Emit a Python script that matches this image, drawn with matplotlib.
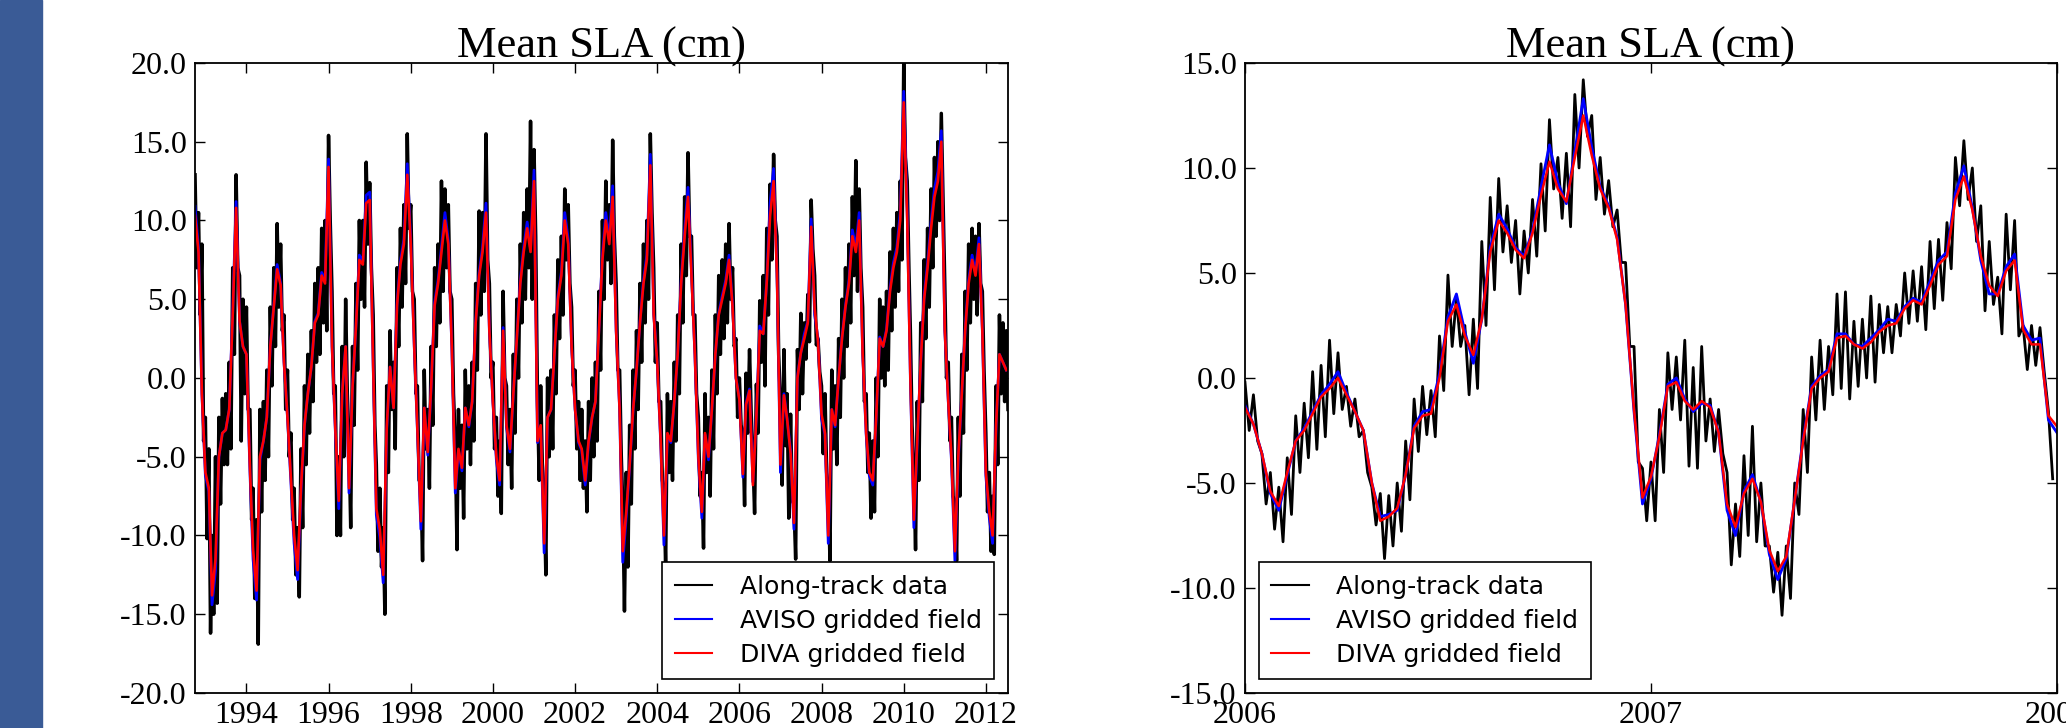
import numpy as np
import pandas as pd
import matplotlib
matplotlib.use('Agg')
from matplotlib import pyplot as plt
import matplotlib.dates as mdates
from matplotlib.ticker import FormatStrFormatter, MultipleLocator
from matplotlib.patches import Rectangle

# ---- left panel: monthly values, Oct 1992 .. Jul 2012 ----
diva_all = [
    10.3, 8.0, -1.0, -6.0, -7.0, -13.8, -11.5, -5.0, -3.5, -3.3,
    -2.0, 4.0, 10.8, 3.6, 2.0, 1.5, -5.7, -10.9, -13.5, -5.0,
    -4.0, -2.5, 2.0, 4.5, 6.9, 5.9, 1.0, -2.5, -6.5, -10.0,
    -12.2, -7.0, -3.0, -1.0, 0.7, 3.5, 4.0, 6.5, 6.0, 13.4,
    2.0, -3.2, -7.8, -1.0, 2.0, -7.0, -0.6, 3.3, 7.5, 7.2,
    11.1, 11.3, 0.7, -8.3, -9.6, -12.5, -3.2, 0.7, -1.9, 4.6,
    7.2, 8.5, 12.9, 8.5, 2.0, -3.2, -9.1, -1.9, -4.7, -0.6,
    4.6, 6.0, 8.0, 10.0, 8.5, 2.0, -7.0, -4.5, -5.7, -1.9,
    -3.0, -1.5, 3.5, 6.5, 8.0, 10.5, 3.0, -1.5, -5.0, -6.5,
    3.0, -3.0, -4.5, -1.0, 2.5, 6.0, 8.0, 9.5, 8.0, 12.5,
    -4.0, -3.0, -10.5, -2.5, -2.0, 1.5, 5.0, 6.5, 10.0, 8.5,
    2.0, -2.0, -4.0, -4.5, -6.5, -4.0, -2.5, -1.5, 3.0, 7.5,
    10.0, 8.5, 11.5, 3.0, -2.0, -11.0, -8.5, -5.5, -2.0, 0.5,
    3.5, 6.0, 7.5, 13.5, 4.0, 1.0, -4.0, -10.0, -3.5, -4.0,
    -1.5, 1.5, 6.0, 9.0, 11.5, 6.5, 1.5, -5.0, -8.5, -3.5,
    -5.0, -2.0, 1.5, 4.0, 5.0, 6.0, 7.5, 4.5, 0.0, -1.4,
    -6.1, -1.7, -0.8, -6.8, -2.4, 3.0, 2.8, 6.1, 10.3, 12.5,
    6.6, -5.5, -1.1, -2.6, -4.8, -9.2, 0.0, 1.6, 2.5, 3.5,
    9.6, 4.4, 2.3, -2.3, -3.5, -10.0, -2.0, -3.0, 0.0, 2.5,
    4.5, 6.0, 9.0, 8.0, 10.0, 1.5, -3.5, -6.0, -6.5, -2.5,
    2.5, 2.0, 3.0, 5.5, 7.0, 8.0, 10.0, 17.5, 10.0, 0.0,
    -9.0, -4.0, 1.0, 5.0, 7.0, 9.5, 11.5, 12.5, 15.0, 3.0,
    -1.5, -5.0, -11.0, -5.0, -1.0, 3.0, 6.0, 7.5, 6.5, 8.5,
    3.0, -6.0, -8.5, -10.0, -3.0, 1.5, 1.0, 0.5,
]
aviso_all = [
    10.9, 8.2, -1.0, -6.2, -7.2, -14.4, -12.2, -5.0, -3.5, -3.3,
    -2.0, 4.2, 11.2, 3.6, 2.0, 1.5, -5.9, -11.5, -14.1, -5.2,
    -4.0, -2.5, 2.0, 4.6, 7.2, 6.0, 1.0, -2.5, -6.7, -10.5,
    -12.8, -7.2, -3.0, -1.0, 0.7, 3.6, 4.1, 6.7, 6.2, 13.9,
    2.0, -3.3, -8.3, -1.0, 2.0, -7.3, -0.6, 3.4, 7.8, 7.4,
    11.6, 11.8, 0.7, -8.7, -10.1, -13.0, -3.3, 0.7, -1.9, 4.8,
    7.4, 8.8, 13.6, 8.7, 2.0, -3.3, -9.6, -1.9, -4.9, -0.6,
    4.8, 6.2, 8.3, 10.5, 8.7, 2.0, -7.3, -4.6, -5.9, -1.9,
    -3.1, -1.5, 3.6, 6.7, 8.3, 11.1, 3.0, -1.5, -5.2, -6.8,
    3.2, -3.1, -4.7, -1.0, 2.6, 6.2, 8.3, 9.9, 8.2, 13.2,
    -4.1, -3.1, -11.1, -2.5, -2.0, 1.5, 5.2, 6.7, 10.5, 8.8,
    2.0, -2.0, -4.1, -4.6, -6.8, -4.1, -2.5, -1.5, 3.1, 7.8,
    10.5, 8.8, 12.2, 3.0, -2.0, -11.7, -8.8, -5.6, -2.0, 0.5,
    3.6, 6.2, 7.8, 14.2, 4.1, 1.0, -4.1, -10.6, -3.6, -4.1,
    -1.5, 1.5, 6.2, 9.4, 12.1, 6.7, 1.5, -5.2, -8.9, -3.6,
    -5.2, -2.0, 1.5, 4.1, 5.2, 6.2, 7.8, 4.6, 0.0, -1.3,
    -6.3, -1.6, -0.7, -6.6, -2.3, 3.3, 2.8, 6.2, 11.1, 13.3,
    6.7, -6.0, -1.0, -2.6, -4.6, -9.6, 0.1, 1.6, 2.8, 3.6,
    10.1, 4.0, 2.5, -2.6, -3.6, -10.5, -2.0, -3.1, 0.0, 2.6,
    4.6, 6.2, 9.4, 8.3, 10.5, 1.5, -3.6, -6.2, -6.8, -2.5,
    2.6, 2.0, 3.1, 5.7, 7.3, 8.3, 10.5, 18.2, 10.5, 0.0,
    -9.5, -4.1, 1.0, 5.2, 7.3, 9.9, 12.0, 13.1, 15.7, 3.0,
    -1.5, -5.2, -11.6, -5.2, -1.0, 3.1, 6.2, 7.8, 6.7, 8.9,
    3.0, -6.2, -8.9, -10.5, -3.0, 1.5, 1.0, 0.5,
]
# along-track data: upper and lower swing in each month
track_hi_all = [
    12.9, 10.5, 8.5, -2.5, -4.5, -10.0, -5.0, -2.5, -1.3, -1.0,
    1.0, 7.0, 12.9, 6.5, 5.0, 4.5, -2.0, -7.0, -9.0, -2.0,
    -1.5, 0.5, 4.5, 7.0, 9.8, 8.5, 4.0, 0.5, -3.5, -7.0,
    -9.5, -4.5, -0.5, 1.5, 3.0, 6.0, 7.0, 9.5, 10.0, 15.4,
    5.5, -0.5, -5.0, 2.0, 5.0, -4.0, 2.0, 6.0, 10.0, 10.0,
    13.7, 12.4, 4.0, -5.5, -7.0, -9.5, -0.5, 3.0, 1.0, 7.0,
    9.5, 11.0, 15.5, 11.0, 5.0, -0.5, -6.5, 0.5, -2.0, 2.0,
    7.0, 8.5, 12.5, 12.0, 11.0, 5.0, -4.0, -2.0, -3.0, 0.5,
    -0.5, 1.0, 6.0, 10.6, 10.5, 15.5, 6.0, 1.0, -2.5, -4.0,
    5.5, -0.5, -2.0, 1.5, 5.0, 8.5, 10.5, 12.0, 16.3, 14.5,
    -1.5, -0.5, -7.5, 0.0, 0.5, 4.0, 7.5, 9.0, 12.0, 11.0,
    4.5, 0.5, -1.5, -2.0, -4.0, -1.5, 0.0, 1.0, 5.5, 10.0,
    12.5, 11.0, 15.1, 6.0, 0.5, -8.0, -6.0, -3.0, 0.5, 3.0,
    6.0, 8.5, 10.0, 15.5, 7.0, 3.5, -1.5, -7.0, -1.0, -1.5,
    1.0, 4.0, 8.5, 11.5, 14.3, 9.0, 4.0, -2.5, -6.0, -1.0,
    -2.5, 0.5, 4.0, 6.5, 7.5, 8.5, 9.8, 7.0, 2.5, 0.0,
    -3.5, 0.3, 1.8, -5.0, -0.4, 4.9, 6.5, 9.5, 12.3, 14.2,
    9.0, -1.5, 1.8, -1.0, -2.3, -8.0, 1.8, 4.1, 3.5, 5.3,
    11.3, 6.5, 2.5, -0.5, -1.0, -7.0, 0.5, -0.5, 2.5, 5.0,
    7.0, 8.5, 11.5, 13.8, 12.0, 4.5, -1.0, -3.5, -4.0, 0.0,
    5.0, 4.5, 5.5, 8.0, 9.5, 10.5, 12.5, 20.0, 12.5, 3.0,
    -6.0, -1.5, 3.5, 7.5, 9.5, 12.0, 14.0, 15.0, 16.8, 6.0,
    1.0, -2.5, -8.0, -2.5, 1.5, 5.5, 8.5, 9.5, 9.0, 9.8,
    5.5, -3.5, -6.0, -7.5, -0.5, 4.0, 3.5, 3.0,
]
track_lo_all = [
    7.0, 4.0, -4.0, -10.2, -16.2, -15.0, -14.3, -8.0, -5.5, -5.5,
    -4.5, 1.5, 7.0, -4.0, -1.0, -2.0, -9.0, -14.0, -16.9, -8.5,
    -6.5, -5.0, -0.5, 2.0, 4.5, 3.0, -2.0, -5.0, -9.0, -12.5,
    -13.9, -9.5, -5.5, -3.5, -1.5, 1.0, 1.5, 3.5, 3.0, 10.0,
    -1.0, -10.0, -10.0, -5.0, -1.0, -9.5, -3.0, 0.5, 5.0, 4.5,
    8.5, 7.0, -3.0, -11.0, -12.0, -15.0, -6.0, -2.0, -4.5, 2.0,
    4.5, 6.0, 9.5, 5.5, -1.0, -6.5, -11.6, -4.5, -7.0, -3.0,
    2.0, 3.5, 5.5, 7.0, 5.5, -1.0, -10.9, -7.0, -8.9, -4.5,
    -5.5, -4.0, 0.5, 4.0, 5.5, 7.5, 0.0, -4.5, -7.5, -8.6,
    0.0, -5.5, -7.0, -3.5, 0.0, 3.5, 5.0, 7.0, 5.0, 9.0,
    -6.5, -5.5, -12.5, -5.0, -4.5, -1.0, 2.5, 4.0, 7.5, 6.0,
    -0.5, -4.5, -6.5, -7.0, -8.5, -6.5, -5.0, -4.0, 0.5, 5.0,
    7.5, 6.0, 9.0, 0.5, -5.0, -14.8, -12.0, -8.0, -4.5, -2.0,
    1.0, 3.5, 5.0, 10.5, 1.0, -1.5, -6.5, -12.0, -6.0, -6.5,
    -4.0, -1.0, 3.5, 6.5, 9.0, 4.0, -1.0, -7.5, -10.8, -6.0,
    -7.5, -4.5, -1.0, 1.5, 2.5, 3.5, 5.0, 2.0, -2.5, -3.0,
    -8.1, -3.5, -2.3, -8.6, -3.5, 1.0, -0.5, 4.0, 7.5, 10.0,
    1.5, -6.8, -4.3, -8.9, -7.8, -11.5, -2.0, -1.0, 1.2, 2.3,
    8.2, 2.1, 0.4, -4.8, -6.0, -11.6, -4.5, -5.5, -2.5, 0.0,
    2.0, 3.5, 6.5, 5.5, 7.0, -1.5, -6.0, -8.9, -8.5, -5.0,
    0.0, -0.5, 0.5, 3.0, 4.5, 5.5, 7.5, 14.0, 7.0, -3.0,
    -10.9, -6.5, -1.5, 2.5, 4.5, 7.0, 9.0, 10.0, 11.5, 0.0,
    -4.0, -7.5, -11.6, -7.5, -3.5, 0.5, 3.5, 5.0, 4.0, 6.0,
    0.5, -8.5, -11.0, -11.2, -5.5, -1.0, -1.5, -2.0,
]

# ---- right panel: 2006-2007, values every 1/48 year ----
diva_zoom = [
    -1.4, -2.2, -3.6, -5.4, -6.1, -4.5, -3.0, -2.5, -1.7, -0.9,
    -0.5, 0.0, -0.8, -1.6, -2.5, -5.0, -6.8, -6.6, -6.2, -4.6,
    -2.4, -1.8, -1.7, 0.0, 2.7, 3.5, 2.0, 1.1, 2.8, 6.0,
    7.5, 6.9, 6.1, 5.7, 6.9, 8.7, 10.3, 9.0, 8.4, 10.5,
    12.5, 10.6, 9.0, 8.1, 6.6, 3.5, -1.5, -5.7, -4.7, -2.8,
    -0.4, -0.2, -1.1, -1.5, -1.1, -1.4, -2.6, -6.0, -7.1, -5.5,
    -4.8, -5.9, -8.2, -9.2, -8.5, -5.8, -3.0, -0.5, 0.0, 0.3,
    1.9, 2.0, 1.6, 1.4, 1.7, 2.2, 2.5, 2.6, 3.3, 3.7,
    3.5, 4.4, 5.4, 5.8, 8.5, 9.6, 8.0, 5.8, 4.4, 3.9,
    5.1, 5.6, 2.3, 1.6, 1.6, -1.8, -2.3,
]
aviso_zoom = [
    -1.3, -2.2, -3.6, -5.5, -6.3, -4.6, -3.0, -2.4, -1.6, -0.8,
    -0.3, 0.3, -0.7, -1.6, -2.5, -5.0, -6.6, -6.5, -6.3, -4.6,
    -2.3, -1.6, -1.5, 0.2, 2.9, 4.0, 2.2, 0.7, 2.8, 6.2,
    7.8, 7.1, 6.2, 5.8, 7.0, 9.1, 11.1, 9.3, 8.3, 10.8,
    13.3, 11.0, 9.1, 8.2, 6.7, 3.5, -1.6, -6.0, -4.8, -2.7,
    -0.3, 0.0, -1.0, -1.6, -1.2, -1.3, -2.6, -6.3, -7.5, -5.4,
    -4.6, -5.9, -8.4, -9.6, -8.6, -5.8, -2.9, -0.4, 0.1, 0.4,
    2.1, 2.1, 1.6, 1.5, 1.9, 2.3, 2.8, 2.7, 3.4, 3.8,
    3.6, 4.6, 5.6, 6.0, 8.8, 10.1, 8.1, 5.6, 4.0, 4.0,
    5.3, 5.9, 2.5, 1.8, 1.9, -2.0, -2.6,
]
track_hi_zoom = [
    -0.2, -0.8, -3.6, -4.5, -5.2, -3.8, -1.8, -1.2, 0.3, 0.6,
    1.8, 1.2, -0.4, -1.0, -2.5, -5.2, -5.5, -5.6, -5.0, -3.0,
    -1.0, -0.4, -0.6, 2.0, 4.9, 3.8, 2.5, 2.8, 6.5, 8.6,
    9.5, 8.2, 7.5, 7.0, 8.5, 10.2, 12.3, 10.5, 10.7, 13.5,
    14.2, 12.5, 10.5, 9.4, 8.0, 5.5, 1.5, -4.3, -4.0, -1.5,
    1.2, 1.0, 1.8, 0.5, 1.5, -1.0, -1.5, -4.5, -6.0, -3.7,
    -2.3, -5.0, -8.0, -8.3, -8.0, -5.0, -1.5, 1.0, 1.8, 1.5,
    4.0, 4.1, 2.7, 2.8, 3.9, 3.5, 3.4, 3.5, 5.0, 5.1,
    5.3, 6.5, 6.6, 7.4, 10.5, 11.3, 10.0, 8.2, 6.5, 4.8,
    7.8, 7.5, 2.5, 2.5, 2.4, -1.6,
]
track_lo_zoom = [
    -2.5, -3.0, -6.0, -7.2, -7.8, -6.5, -4.5, -3.8, -3.4, -2.8,
    -1.7, -1.5, -2.3, -2.8, -4.5, -7.0, -8.6, -8.0, -7.3, -5.8,
    -3.5, -2.7, -2.8, -0.6, 1.5, 1.5, -0.8, -0.5, 2.5, 4.2,
    6.0, 5.5, 4.0, 5.0, 5.8, 7.0, 9.0, 7.6, 7.2, 10.0,
    11.5, 8.5, 7.8, 7.2, 5.5, 1.5, -4.0, -6.8, -6.8, -4.5,
    -1.5, -2.0, -4.2, -4.3, -3.0, -3.5, -3.6, -8.9, -8.5, -7.5,
    -7.8, -8.0, -10.2, -11.3, -10.5, -6.5, -4.5, -2.0, -1.5, -0.8,
    -0.5, -1.0, -0.4, 0.0, -0.2, 1.2, 1.2, 2.0, 2.6, 2.7,
    2.3, 3.3, 3.7, 5.2, 8.2, 8.5, 6.5, 3.2, 3.5, 2.1,
    4.2, 2.0, 0.4, 0.6, 0.3, -4.8,
]

labels = ['Along-track data', 'AVISO gridded field', 'DIVA gridded field']

plt.rcParams['font.family'] = ['Liberation Serif', 'DejaVu Serif']
plt.rcParams['axes.unicode_minus'] = False


def zigzag(hi, lo):
    vals = np.empty(len(hi) + len(lo))
    vals[0::2] = hi
    vals[1::2] = lo
    return vals


def setup_axes(ax, ymin, ymax):
    ax.set_ylim(ymin, ymax)
    ax.yaxis.set_major_locator(MultipleLocator(5))
    ax.yaxis.set_major_formatter(FormatStrFormatter('%.1f'))
    ax.tick_params(direction='in', top=True, right=True, length=7, width=1,
                   labelsize=23, pad=6)
    for sp in ax.spines.values():
        sp.set_linewidth(1.3)
    ax.set_title('Mean SLA (cm)', fontsize=32, pad=4)


def add_legend(ax, loc):
    leg = ax.legend(labels, loc=loc, prop={'family': 'DejaVu Sans', 'size': 18},
                    fancybox=False, framealpha=1, edgecolor='black',
                    borderaxespad=0.55, borderpad=0.5, handlelength=1.5,
                    handletextpad=1.1, labelspacing=0.4)
    leg.get_frame().set_linewidth(1.2)
    for line in leg.get_lines():
        line.set_linewidth(1.5)


fig = plt.figure(figsize=(20.66, 7.28), dpi=100)
fig.patches.append(Rectangle((0, 0), 42 / 2066, 1, transform=fig.transFigure,
                             color='#3a5b96', zorder=0))

# left panel
months = pd.date_range('1992-10-01', periods=len(diva_all), freq='MS')
t_track = np.empty(2 * len(months), dtype='datetime64[ns]')
t_track[0::2] = months.values
t_track[1::2] = (months + pd.Timedelta(days=15)).values

ax1 = fig.add_axes([0.0944, 0.0481, 0.3935, 0.8654])
ax1.plot(t_track, zigzag(track_hi_all, track_lo_all), color='k', lw=2.5)
ax1.plot(months, aviso_all, color='b', lw=2.0)
ax1.plot(months, diva_all, color='r', lw=1.9)
ax1.set_xlim(pd.Timestamp('1992-10-01'), pd.Timestamp('2012-07-16'))
ax1.xaxis.set_major_locator(mdates.YearLocator(2))
ax1.xaxis.set_major_formatter(mdates.DateFormatter('%Y'))
setup_axes(ax1, -20, 20)
add_legend(ax1, 'lower right')

# right panel
t_grid = pd.date_range('2006-01-01', '2008-01-01', periods=len(diva_zoom))
t_zig = pd.date_range('2006-01-01', '2008-01-01', periods=2 * len(track_hi_zoom) + 1)[:-1]

ax2 = fig.add_axes([0.6026, 0.0481, 0.3930, 0.8654])
ax2.plot(t_zig, zigzag(track_hi_zoom, track_lo_zoom), color='k', lw=2.0)
ax2.plot(t_grid, aviso_zoom, color='b', lw=2.0)
ax2.plot(t_grid, diva_zoom, color='r', lw=1.8)
ax2.set_xlim(pd.Timestamp('2006-01-01'), pd.Timestamp('2008-01-01'))
ax2.xaxis.set_major_locator(mdates.YearLocator(1))
ax2.xaxis.set_major_formatter(mdates.DateFormatter('%Y'))
setup_axes(ax2, -15, 15)
add_legend(ax2, 'lower left')

fig.savefig('out.png', dpi=100)
